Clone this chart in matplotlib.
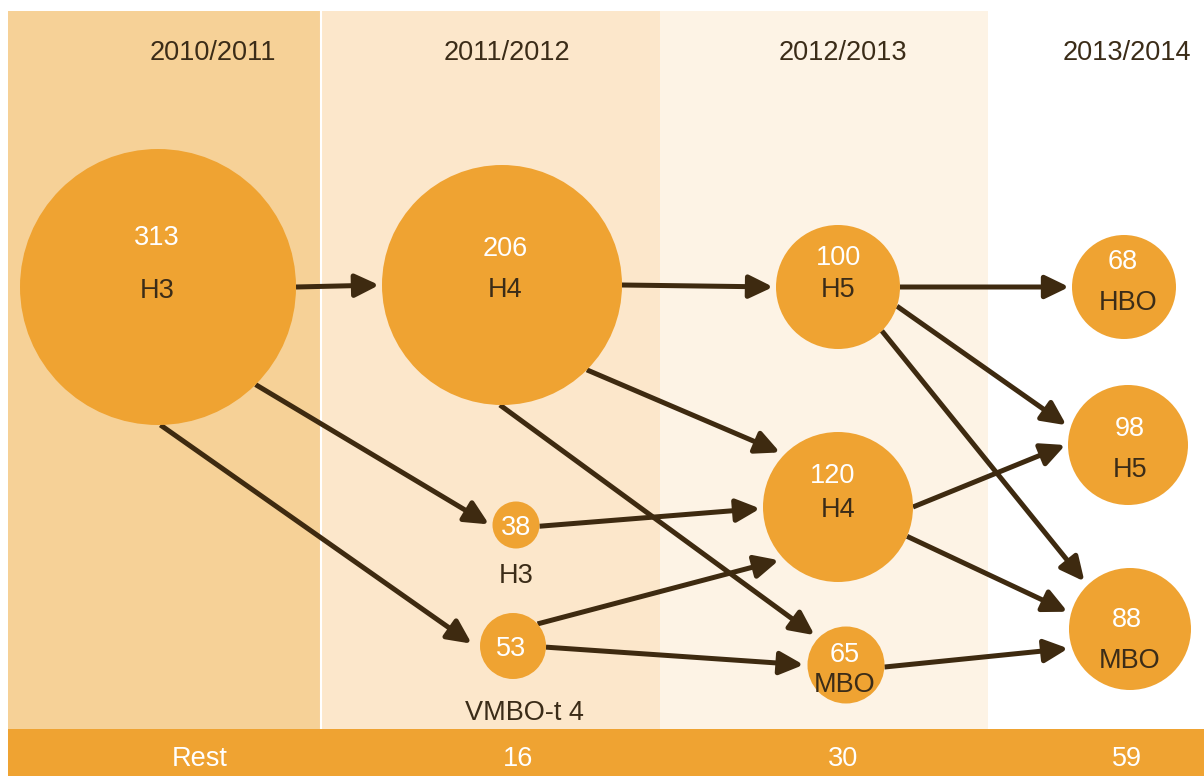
import numpy as np
import matplotlib
matplotlib.use('Agg')
import matplotlib.pyplot as plt
from matplotlib.patches import Rectangle, Circle, FancyArrowPatch

# Data
years = ['2010/2011', '2011/2012', '2012/2013', '2013/2014']
rest_labels = ['Rest', '16', '30', '59']
node_values = [313, 206, 38, 53, 100, 120, 65, 68, 98, 88]
node_labels = ['H3', 'H4', 'H3', 'VMBO-t 4', 'H5', 'H4', 'MBO', 'HBO', 'H5', 'MBO']
# (from, to) node indices
flows = [(0, 1), (0, 2), (0, 3), (1, 4), (1, 5), (1, 6), (2, 5), (3, 5),
         (3, 6), (4, 7), (4, 8), (4, 9), (5, 8), (5, 9), (6, 9)]

# Layout (pixel coords, y down)
node_xy = [(158, 287), (502, 285), (516, 525), (513, 646), (838, 287),
           (838, 507), (846, 665), (1124, 287), (1128, 445), (1130, 629)]
node_r = [138, 120, 23.5, 33, 62, 75, 38.5, 52, 60, 61]
# (dx, dy) of number and of label relative to node centre
num_off = [(-1, -52), (3, -39), (0, 0), (-2, 0), (0, -32), (-5, -34),
           (-1, -13), (-1, -28), (2, -19), (-3, -12)]
lab_off = [(-1, 1), (3, 2), (0, 48), (11, 64), (0, 0), (0, 0),
           (-1, 17), (4, 13), (2, 22), (0, 29)]
# attachment angle on source / target circle (deg, y down) and tip gap
flow_ang = [(0, 180), (45, 178), (89, 181), (0, 180), (45, 224), (91, 224),
            (3, 179), (-42, 137), (2, 180), (0, 180), (18, 197), (45, 226),
            (0, 181), (23, 195), (3, 162)]
flow_gap = [0, 1, 6, 0, 2, 2, 0, 2, 1, 0, 2, 2, 0, 1, 1]

col_edges = [8, 322, 660, 988, 1204]
col_colors = ['#F6D197', '#FCE7CB', '#FDF3E5', '#FFFFFF']
year_x = [213, 507, 843, 1127]
rest_x = [200, 518, 843, 1127]

orange = '#EFA332'
dark = '#3B2C18'
arrow_col = '#3E2A10'
font = 'Liberation Sans'
fs = 19.5
ty = 3  # small downward nudge so the digits sit where the reference has them

W, H = 1204, 776
fig = plt.figure(figsize=(W / 100, H / 100), dpi=100)
ax = fig.add_axes([0, 0, 1, 1])
ax.set_xlim(0, W)
ax.set_ylim(H, 0)
ax.axis('off')

# Background columns
for i in range(4):
    ax.add_patch(Rectangle((col_edges[i], 11), col_edges[i + 1] - col_edges[i], 729 - 11,
                           facecolor=col_colors[i], edgecolor='none', zorder=0))
ax.plot([321, 321], [11, 729], color='white', lw=1.5, zorder=0.5)

# Bottom bar
ax.add_patch(Rectangle((8, 729), W - 8, H - 729, facecolor=orange, edgecolor='none', zorder=1))

for x, t in zip(year_x, years):
    ax.text(x, 50 + ty, t, ha='center', va='center', color=dark, fontsize=fs, family=font)
for x, t in zip(rest_x, rest_labels):
    ax.text(x, 756 + ty, t, ha='center', va='center', color='white', fontsize=fs, family=font)

# Arrows
for (a, b), (t1, t2), g in zip(flows, flow_ang, flow_gap):
    x1, y1 = node_xy[a]
    x2, y2 = node_xy[b]
    r1 = node_r[a]
    r2 = node_r[b] + g
    p1 = (x1 + r1 * np.cos(np.radians(t1)), y1 + r1 * np.sin(np.radians(t1)))
    p2 = (x2 + r2 * np.cos(np.radians(t2)), y2 + r2 * np.sin(np.radians(t2)))
    arr = FancyArrowPatch(p1, p2, arrowstyle='-|>,head_length=1.45,head_width=0.7',
                          mutation_scale=10, color=arrow_col, lw=3.6,
                          shrinkA=0, shrinkB=2, capstyle='butt', zorder=2)
    ax.add_patch(arr)

# Nodes
for i, v in enumerate(node_values):
    cx, cy = node_xy[i]
    ax.add_patch(Circle((cx, cy), node_r[i], facecolor=orange, edgecolor='none', zorder=3))
    ax.text(cx + num_off[i][0], cy + num_off[i][1] + ty, str(v), ha='center', va='center',
            color='white', fontsize=fs, family=font, zorder=4)
    ax.text(cx + lab_off[i][0], cy + lab_off[i][1] + ty, node_labels[i], ha='center', va='center',
            color=dark, fontsize=fs, family=font, zorder=4)

fig.savefig('out.png', dpi=100, facecolor='white')
